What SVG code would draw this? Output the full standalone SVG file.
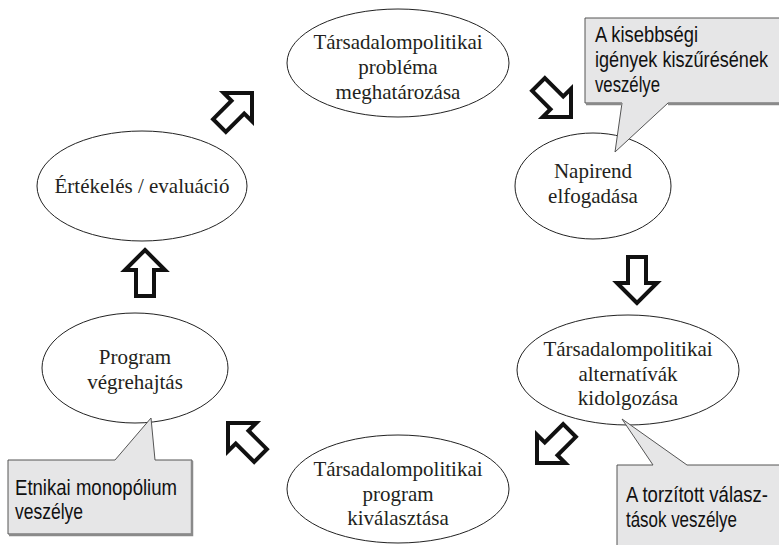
<svg xmlns="http://www.w3.org/2000/svg" width="779" height="545" viewBox="0 0 779 545">
<defs>
<style>
.node ellipse{fill:#fff;stroke:#222;stroke-width:1}
.node text{font-family:"Liberation Serif","Times New Roman",serif;font-size:21px;fill:#231f20;text-anchor:middle}
.arrow{fill:#fff;stroke:#111;stroke-width:4;stroke-linejoin:miter}
.callout path.box{fill:#e6e6e7;stroke:#555;stroke-width:1}
.callout path.shadow{fill:none;stroke:#8a8a8a;stroke-width:2.5}
.callout text{font-family:"Liberation Sans","Arial",sans-serif;font-size:22px;fill:#111}
</style>
<path id="arr" d="M0,0 L20,20 L9,20 L9,46 L-9,46 L-9,20 L-20,20 Z"/>
</defs>
<rect width="779" height="545" fill="#fff"/>

<g id="connectors">
<use href="#arr" class="arrow" transform="translate(252,93) rotate(45)"/>
<use href="#arr" class="arrow" transform="translate(571,117) rotate(135)"/>
<use href="#arr" class="arrow" transform="translate(637,303) rotate(180)"/>
<use href="#arr" class="arrow" transform="translate(537,463) rotate(225)"/>
<use href="#arr" class="arrow" transform="translate(228,423) rotate(-45)"/>
<use href="#arr" class="arrow" transform="translate(145,250)"/>
</g>

<g id="n1" class="node">
<ellipse cx="398" cy="63" rx="111" ry="54"/>
<text x="398" y="49">Társadalompolitikai</text>
<text x="398" y="74">probléma</text>
<text x="398" y="99">meghatározása</text>
</g>
<g id="n2" class="node">
<ellipse cx="593" cy="186" rx="78" ry="53"/>
<text x="593" y="178">Napirend</text>
<text x="593" y="203">elfogadása</text>
</g>
<g id="n3" class="node">
<ellipse cx="628" cy="370" rx="111" ry="55"/>
<text x="628" y="356">Társadalompolitikai</text>
<text x="628" y="381">alternatívák</text>
<text x="628" y="405">kidolgozása</text>
</g>
<g id="n4" class="node">
<ellipse cx="398" cy="489" rx="111" ry="54"/>
<text x="398" y="476">Társadalompolitikai</text>
<text x="398" y="501">program</text>
<text x="398" y="525">kiválasztása</text>
</g>
<g id="n5" class="node">
<ellipse cx="135" cy="368" rx="93" ry="55"/>
<text x="135" y="364">Program</text>
<text x="135" y="389">végrehajtás</text>
</g>
<g id="n6" class="node">
<ellipse cx="142" cy="186" rx="105" ry="55"/>
<text x="142" y="193">Értékelés / evaluáció</text>
</g>

<g id="c1" class="callout">
<path class="box" d="M585,18 L780,18 L780,103 L668,103 L615,152 L622,103 L585,103 Z"/>
<path class="shadow" d="M780,104 L668,104 M622,104 L586,104"/>
<text x="595" y="42" textLength="103" lengthAdjust="spacingAndGlyphs">A kisebbségi</text>
<text x="595" y="67" textLength="173" lengthAdjust="spacingAndGlyphs">igények kiszűrésének</text>
<text x="595" y="92" textLength="65" lengthAdjust="spacingAndGlyphs">veszélye</text>
</g>
<g id="c2" class="callout">
<path class="box" d="M8,460 L115,460 L151,418 L155,460 L192,460 L192,534 L8,534 Z"/>
<path class="shadow" d="M192,461 L192,535 L9,535"/>
<text x="15" y="495" textLength="162" lengthAdjust="spacingAndGlyphs">Etnikai monopólium</text>
<text x="15" y="519" textLength="68" lengthAdjust="spacingAndGlyphs">veszélye</text>
</g>
<g id="c3" class="callout">
<path class="box" d="M617,465 L653,465 L622,419 L687,465 L780,465 L780,546 L617,546 Z"/>
<text x="626" y="502" textLength="142" lengthAdjust="spacingAndGlyphs">A torzított válasz-</text>
<text x="626" y="527" textLength="111" lengthAdjust="spacingAndGlyphs">tások veszélye</text>
</g>
</svg>
